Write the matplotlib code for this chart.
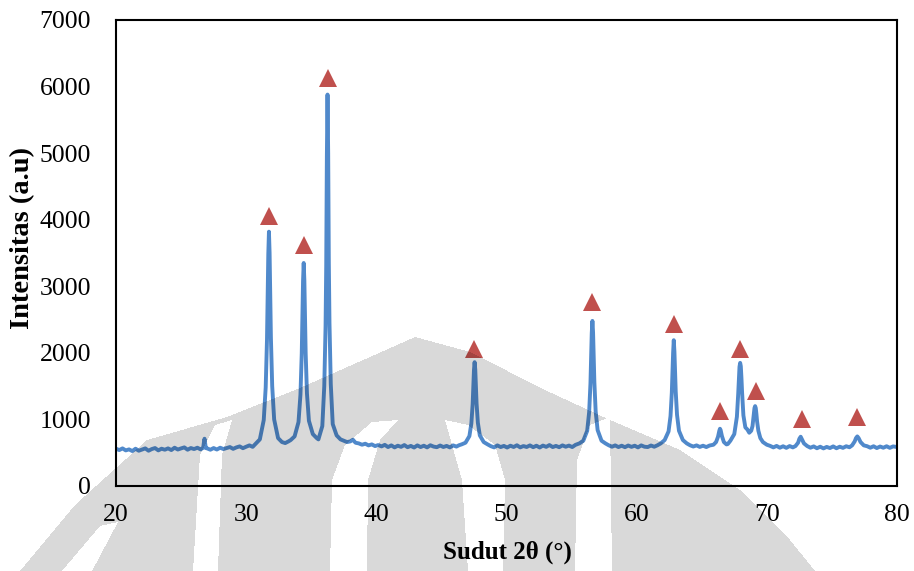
import numpy as np
import matplotlib
matplotlib.use("Agg")
import matplotlib.pyplot as plt
from matplotlib.path import Path

plt.rcParams['font.family'] = ['Liberation Serif', 'DejaVu Serif']

# XRD scan, 2theta (deg) vs intensity (a.u)
two_theta = [
    20.00, 20.25, 20.50, 20.75, 21.00, 21.25, 21.50, 21.75, 22.00, 22.25,
    22.50, 22.75, 23.00, 23.25, 23.50, 23.75, 24.00, 24.25, 24.50, 24.75,
    25.00, 25.25, 25.50, 25.75, 26.00, 26.25, 26.50, 26.70, 26.75, 26.80,
    26.85, 26.90, 27.00, 27.25, 27.50, 27.75, 28.00, 28.25, 28.50, 28.75,
    29.00, 29.25, 29.50, 29.75, 30.00, 30.25, 30.50,
    30.75, 31.05, 31.35, 31.50, 31.60, 31.65, 31.70, 31.75, 31.80, 31.85,
    31.90, 32.00, 32.15, 32.45, 32.75, 33.00, 33.25,
    33.42, 33.72, 34.02, 34.17, 34.27, 34.32, 34.37, 34.42, 34.47, 34.52,
    34.57, 34.67, 34.82, 35.12, 35.42,
    35.55, 35.85, 36.00, 36.10, 36.15, 36.20, 36.25, 36.30, 36.35, 36.40,
    36.50, 36.65, 36.95, 37.25, 37.50, 37.75, 38.00, 38.20, 38.40, 38.65,
    38.90, 39.15, 39.40, 39.65, 39.90, 40.15, 40.40, 40.65, 40.90, 41.15,
    41.40, 41.65, 41.90, 42.15, 42.40, 42.65, 42.90, 43.15, 43.40, 43.65,
    43.90, 44.15, 44.40, 44.65, 44.90, 45.15, 45.40, 45.65, 45.90, 46.15,
    46.35,
    46.55, 46.85, 47.15, 47.30, 47.40, 47.45, 47.50, 47.55, 47.60, 47.65,
    47.70, 47.80, 47.95, 48.25, 48.55,
    48.80, 49.05, 49.30, 49.55, 49.80, 50.05, 50.30, 50.55, 50.80, 51.05,
    51.30, 51.55, 51.80, 52.05, 52.30, 52.55, 52.80, 53.05, 53.30, 53.55,
    53.80, 54.05, 54.30, 54.55, 54.80, 55.05, 55.30,
    55.60, 55.90, 56.20, 56.35, 56.45, 56.50, 56.55, 56.60, 56.65, 56.70,
    56.75, 56.85, 57.00, 57.30, 57.60,
    57.85, 58.10, 58.35, 58.60, 58.85, 59.10, 59.35, 59.60, 59.85, 60.10,
    60.35, 60.60, 60.85, 61.10, 61.35, 61.60,
    61.85, 62.15, 62.45, 62.60, 62.70, 62.75, 62.80, 62.85, 62.90, 62.95,
    63.00, 63.10, 63.25, 63.55, 63.85,
    64.10, 64.35, 64.60, 64.85, 65.10, 65.35, 65.60,
    65.90, 66.10, 66.25, 66.35, 66.40, 66.45, 66.55, 66.70, 66.90, 67.00,
    67.20, 67.50, 67.70, 67.80, 67.85, 67.90, 67.95, 68.00, 68.05, 68.10,
    68.20, 68.35, 68.50, 68.65,
    68.80, 68.90, 68.95, 69.00, 69.05, 69.10, 69.15, 69.20, 69.25, 69.35,
    69.50, 69.70, 70.00,
    70.25, 70.50, 70.75, 71.00, 71.25, 71.50, 71.75, 72.00,
    72.20, 72.40, 72.50, 72.60, 72.70, 72.85, 73.10,
    73.35, 73.60, 73.85, 74.10, 74.35, 74.60, 74.85, 75.10, 75.35, 75.60,
    75.85, 76.10, 76.35,
    76.55, 76.75, 76.85, 76.95, 77.05, 77.20, 77.45,
    77.70, 77.95, 78.20, 78.45, 78.70, 78.95, 79.20, 79.45, 79.70, 80.00,
]
intensity = [
    560, 540, 565, 535, 550, 525, 560, 530, 548, 565,
    530, 555, 570, 535, 560, 545, 565, 540, 575, 548,
    565, 580, 545, 570, 555, 575, 550, 575, 650, 710,
    640, 570, 565, 545, 570, 548, 575, 555, 570, 585,
    558, 580, 595, 568, 590, 610, 588,
    640, 700, 990, 1480, 2200, 2850, 3480, 3820, 3500, 2860,
    2230, 1500, 1000, 720, 660, 645, 670,
    690, 745, 960, 1370, 1990, 2530, 3080, 3350, 3090, 2540,
    2000, 1390, 980, 780, 720,
    700, 900, 1500, 2400, 3300, 4950, 5880, 5000, 3350, 2450,
    1530, 930, 760, 700, 680, 660, 670, 695, 650, 640,
    620, 635, 610, 625, 600, 615, 595, 618, 585, 610,
    580, 605, 588, 615, 583, 602, 578, 610, 585, 605,
    580, 612, 592, 583, 608, 586, 602, 580, 610, 592,
    612,
    625, 650, 750, 940, 1230, 1480, 1740, 1860, 1750, 1490,
    1240, 950, 760, 660, 625,
    598, 580, 610, 585, 602, 578, 605, 586, 612, 580,
    600, 586, 610, 583, 605, 578, 607, 588, 615, 585,
    602, 583, 610, 590, 607, 585, 618,
    640, 680, 830, 1110, 1540, 1920, 2300, 2480, 2310, 1940,
    1560, 1120, 840, 680, 640,
    612, 590, 610, 585, 605, 583, 608, 588, 605, 580,
    610, 590, 585, 608, 590, 612,
    640, 690, 820, 1050, 1400, 1700, 2000, 2190, 2020, 1720,
    1420, 1070, 830, 690, 640,
    612, 593, 610, 587, 605, 585, 608,
    620, 660, 740, 830, 860, 840, 750, 660, 625, 630,
    680, 780, 1040, 1380, 1600, 1790, 1850, 1800, 1620, 1400,
    1060, 880, 850, 800,
    830, 900, 990, 1090, 1170, 1200, 1170, 1080, 970, 830,
    720, 660, 620,
    603, 580, 602, 575, 597, 573, 600, 580,
    600, 650, 710, 740, 700, 640, 600,
    575, 595, 567, 590, 565, 587, 570, 595, 567, 590,
    573, 597, 582,
    610, 670, 720, 745, 720, 660, 610,
    598, 575, 597, 570, 593, 575, 597, 573, 595, 585,
]

# peak markers
peak_pos = [31.75, 34.45, 36.3, 47.5, 56.6, 62.9, 66.4, 67.95, 69.2, 72.7, 76.9]
peak_mark = [4050, 3620, 6130, 2060, 2760, 2440, 1120, 2060, 1430, 1000, 1030]

x_ticks = [20, 30, 40, 50, 60, 70, 80]
y_ticks = [0, 1000, 2000, 3000, 4000, 5000, 6000, 7000]

W, H = 914, 571
fig = plt.figure(figsize=(W / 100, H / 100), dpi=100)
ax = fig.add_axes([116 / W, 1 - 486 / H, (897 - 116) / W, (486 - 20) / H])

ax.plot(two_theta, intensity, color='#5089cb', lw=2.8, solid_joinstyle='round')
ax.plot(peak_pos, peak_mark, linestyle='none', marker='^', markersize=13,
        color='#c0504d', markeredgewidth=0)

ax.set_xlim(20, 80)
ax.set_ylim(0, 7000)
ax.set_xticks(x_ticks)
ax.set_yticks(y_ticks)
ax.tick_params(length=0, labelsize=18.5)
ax.tick_params(axis='x', pad=13)
ax.tick_params(axis='y', pad=18)
for s in ax.spines.values():
    s.set_linewidth(1.5)
    s.set_color('black')

ax.set_xlabel('Sudut 2θ (°)', fontsize=18, fontweight='bold', va='center')
ax.xaxis.set_label_coords(0.5 + (507 - 506.5) / 781, -(552 - 486) / 466)
ax.set_ylabel('Intensitas (a.u)', fontsize=20.5, fontweight='bold', va='center')
ax.yaxis.set_label_coords(-(116 - 23) / 781, (486 - 238) / 466)

# faint logo watermark laid over the page (pixel coords, y down)
outer = [(20, 571), (75, 505), (147, 440), (227, 417), (300, 388), (415, 337),
         (470, 352), (545, 390), (610, 420), (680, 450), (740, 490),
         (790, 540), (815, 571)]
gaps = [
    [(62, 571), (92, 571), (118, 522), (100, 526)],
    [(193, 571), (218, 571), (222, 455), (232, 420), (215, 425), (200, 455)],
    [(330, 571), (367, 571), (368, 480), (380, 440), (398, 420), (372, 422),
     (345, 445), (332, 480)],
    [(445, 420), (468, 425), (495, 445), (505, 480), (503, 571), (468, 571),
     (462, 480)],
    [(575, 571), (612, 571), (610, 417), (590, 425), (577, 460)],
]
yy, xx = np.mgrid[0:H, 0:W]
pts = np.column_stack([xx.ravel() + 0.5, yy.ravel() + 0.5])
mask = Path(outer).contains_points(pts)
for g in gaps:
    mask &= ~Path(g).contains_points(pts)
mask = mask.reshape(H, W)
wm = np.zeros((H, W, 4))
wm[..., 3] = 0.15 * mask
fig.figimage(wm, xo=0, yo=0, origin='upper', zorder=10)

fig.savefig('out.png', dpi=100)
